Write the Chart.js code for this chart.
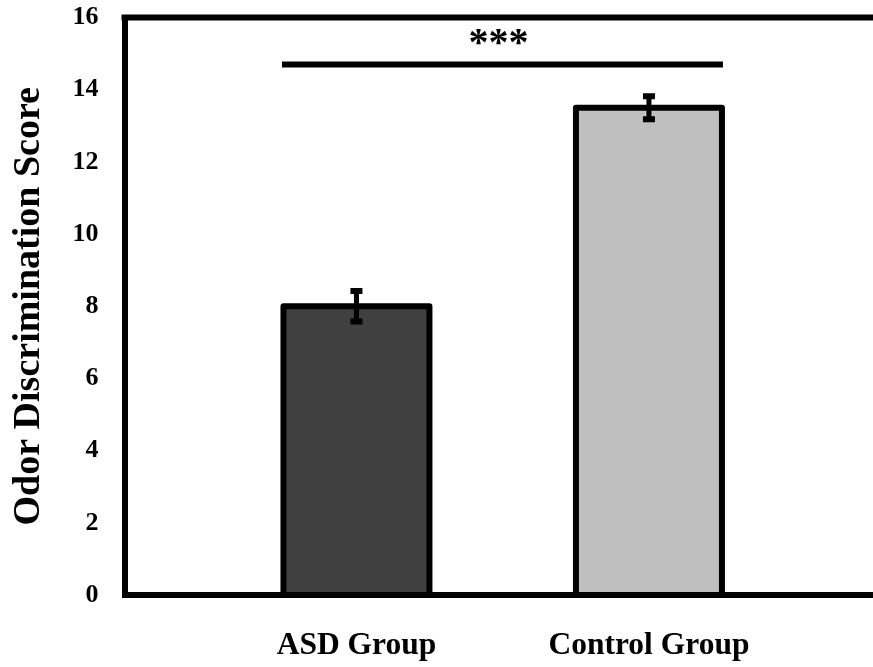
<!DOCTYPE html>
<html>
<head>
<meta charset="utf-8">
<script src="https://cdn.jsdelivr.net/npm/chart.js@4"></script>
<style>
  html, body { margin: 0; padding: 0; background: #fff; }
  #wrap { width: 873px; height: 667px; }
</style>
</head>
<body>
<div id="wrap"><canvas id="c" width="873" height="667"></canvas></div>
<script>
// ---- data ----
const categories = ['ASD Group', 'Control Group'];
const positions = [1, 2];
const scores = [8.0, 13.5];
const errors = [0.42, 0.32];
const barColors = ['#404040', '#bfbfbf'];
const yTickValues = [0, 2, 4, 6, 8, 10, 12, 14, 16];
const sigPair = [0, 1];
const sigLevel = 14.7;
const sigLabel = '***';
const yTitle = 'Odor Discrimination Score';

const SERIF = '"Liberation Serif", "Times New Roman", serif';

const overlayPlugin = {
  id: 'overlay',
  afterDatasetsDraw(chart) {
    const ctx = chart.ctx;
    const ys = chart.scales.y;
    const meta = chart.getDatasetMeta(0);
    const area = chart.chartArea;
    ctx.save();
    ctx.strokeStyle = '#000';
    // top frame line
    ctx.lineWidth = 6;
    ctx.beginPath();
    ctx.moveTo(area.left - 3, area.top);
    ctx.lineTo(area.right, area.top);
    ctx.stroke();

    meta.data.forEach((bar, i) => {
      const p = bar.getProps(['x', 'y', 'base', 'width'], true);
      // bar outline centered on the bar edge
      ctx.lineWidth = 6;
      ctx.lineJoin = 'round';
      ctx.strokeRect(p.x - p.width / 2, p.y, p.width, p.base - p.y);
      // error bar
      const hi = ys.getPixelForValue(scores[i] + errors[i]);
      const lo = ys.getPixelForValue(scores[i] - errors[i]);
      ctx.lineCap = 'butt';
      ctx.lineWidth = 5;
      ctx.beginPath();
      ctx.moveTo(p.x, hi);
      ctx.lineTo(p.x, lo);
      ctx.stroke();
      ctx.lineWidth = 6;
      ctx.beginPath();
      ctx.moveTo(p.x - 6, hi); ctx.lineTo(p.x + 6, hi);
      ctx.moveTo(p.x - 6, lo); ctx.lineTo(p.x + 6, lo);
      ctx.stroke();
    });

    // significance bracket
    const b1 = meta.data[sigPair[0]].getProps(['x', 'width'], true);
    const b2 = meta.data[sigPair[1]].getProps(['x', 'width'], true);
    const x1 = b1.x - b1.width / 2 - 1.5;
    const x2 = b2.x + b2.width / 2 + 1;
    const sy = ys.getPixelForValue(sigLevel);
    ctx.lineWidth = 6;
    ctx.lineCap = 'butt';
    ctx.beginPath();
    ctx.moveTo(x1, sy);
    ctx.lineTo(x2, sy);
    ctx.stroke();
    ctx.fillStyle = '#000';
    ctx.font = 'bold 40px ' + SERIF;
    ctx.textAlign = 'center';
    ctx.textBaseline = 'alphabetic';
    ctx.fillText(sigLabel, (x1 + x2) / 2 - 4, sy - 9);
    ctx.restore();
  }
};

new Chart(document.getElementById('c'), {
  type: 'bar',
  data: {
    datasets: [{
      data: positions.map((x, i) => ({ x: x, y: scores[i] })),
      backgroundColor: barColors,
      borderWidth: 0,
      barThickness: 146,
      inflateAmount: 0
    }]
  },
  options: {
    responsive: false,
    devicePixelRatio: 1,
    animation: false,
    layout: { padding: { top: 17.5, left: 0, right: 0, bottom: 0 } },
    plugins: { legend: { display: false }, tooltip: { enabled: false } },
    scales: {
      x: {
        type: 'linear',
        min: 0.207,
        max: 2.766,
        offset: false,
        grid: { display: false, drawTicks: false },
        border: { display: true, color: '#000', width: 6 },
        afterBuildTicks(scale) { scale.ticks = positions.map(v => ({ value: v })); },
        afterFit(scale) { scale.height = 72; scale.paddingLeft = 0; scale.paddingRight = 0; },
        ticks: {
          padding: 32,
          color: '#000',
          font: { family: SERIF, size: 31.5, weight: 'bold' },
          maxRotation: 0,
          autoSkip: false,
          callback: (v, i) => categories[i]
        }
      },
      y: {
        min: 0,
        max: 16,
        grid: { display: false, drawTicks: false },
        border: { display: true, color: '#000', width: 6 },
        afterBuildTicks(scale) { scale.ticks = yTickValues.map(v => ({ value: v })); },
        afterFit(scale) { scale.width = 124.5; scale.paddingTop = 0; scale.paddingBottom = 0; },
        ticks: {
          padding: 26,
          color: '#000',
          font: { family: SERIF, size: 26, weight: 'bold' }
        },
        title: {
          display: true,
          text: yTitle,
          color: '#000',
          padding: { top: 6, bottom: 0 },
          font: { family: SERIF, size: 38, weight: 'bold' }
        }
      }
    }
  },
  plugins: [overlayPlugin]
});
</script>
</body>
</html>
